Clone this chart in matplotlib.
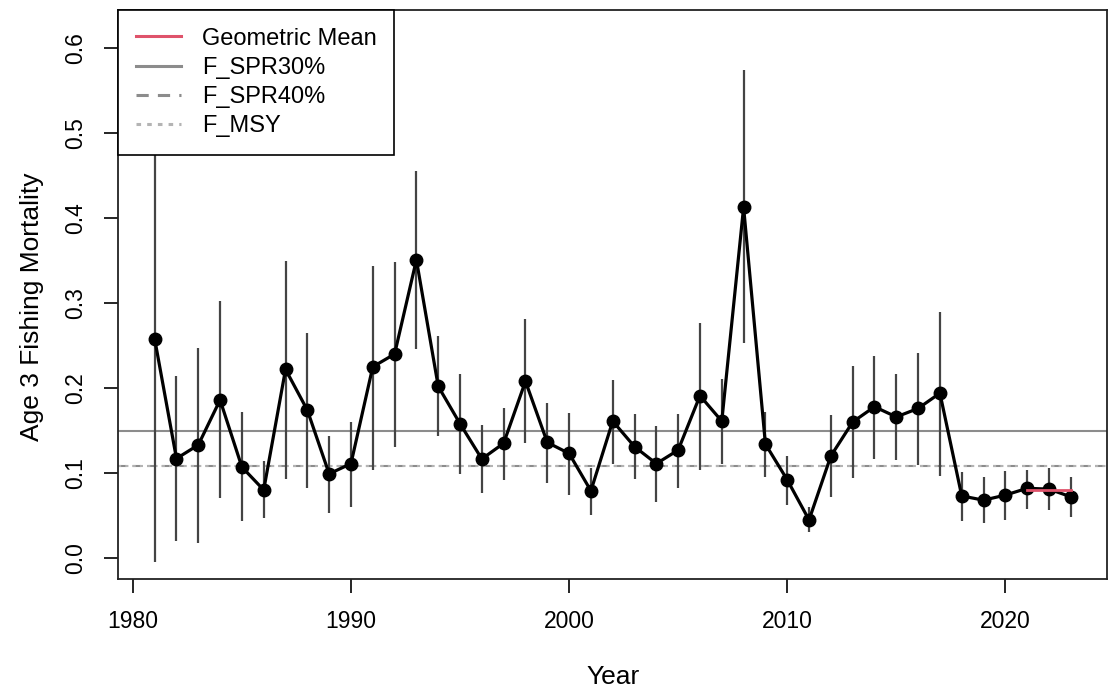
import matplotlib
matplotlib.use('Agg')
import matplotlib.pyplot as plt
import numpy as np

plt.rcParams['font.family'] = ['Liberation Sans', 'DejaVu Sans']

years = np.arange(1981, 2024)
f_age3 = [0.258, 0.117, 0.133, 0.186, 0.107, 0.080, 0.222, 0.174, 0.099, 0.111,
          0.225, 0.240, 0.351, 0.202, 0.158, 0.1165, 0.135, 0.208, 0.136, 0.123,
          0.079, 0.161, 0.131, 0.111, 0.127, 0.191, 0.161, 0.413, 0.134, 0.092,
          0.0447, 0.120, 0.160, 0.178, 0.166, 0.176, 0.194, 0.073, 0.068, 0.074,
          0.082, 0.081, 0.072]
upper = [0.620, 0.214, 0.247, 0.302, 0.172, 0.114, 0.350, 0.265, 0.1435, 0.160,
         0.344, 0.348, 0.456, 0.261, 0.216, 0.156, 0.176, 0.281, 0.182, 0.171,
         0.1055, 0.209, 0.169, 0.155, 0.170, 0.276, 0.211, 0.575, 0.172, 0.120,
         0.060, 0.168, 0.226, 0.238, 0.217, 0.2415, 0.290, 0.1015, 0.0957, 0.102,
         0.104, 0.106, 0.095]
lower = [-0.005, 0.020, 0.017, 0.070, 0.044, 0.047, 0.093, 0.082, 0.053, 0.060,
         0.104, 0.131, 0.246, 0.1435, 0.099, 0.077, 0.092, 0.135, 0.0886, 0.074,
         0.051, 0.111, 0.0925, 0.066, 0.082, 0.1035, 0.1106, 0.2525, 0.095, 0.062,
         0.030, 0.072, 0.094, 0.1165, 0.115, 0.109, 0.097, 0.044, 0.041, 0.0447,
         0.058, 0.056, 0.0486]

gm_years = [2021, 2023]
gm_value = 0.080
f_spr30 = 0.149
f_spr40 = 0.108
f_msy = 0.1085

fig = plt.figure(figsize=(11.08, 6.93), dpi=100)
ax = fig.add_axes([0.1065, 0.1645, 0.893, 0.821])

# reference lines
ax.axhline(f_spr30, color='#8c8c8c', lw=1.5, label='F_SPR30%', zorder=1)
ax.axhline(f_spr40, color='#8c8c8c', lw=1.5, ls=(0, (4, 3)), label='F_SPR40%', zorder=1)
ax.axhline(f_msy, color='#b4b4b4', lw=1.5, ls=(0, (1.5, 2)), label='F_MSY', zorder=1)

# confidence intervals
ax.vlines(years, lower, upper, color='#444444', lw=1.6, zorder=2)

ax.plot(years, f_age3, color='black', lw=2.3, marker='o', ms=9, zorder=3)

ax.plot(gm_years, [gm_value, gm_value], color='#DF536B', lw=2, zorder=4,
        label='Geometric Mean')

ax.set_xlim(1979.32, 2024.68)
ax.set_ylim(-0.0248, 0.645)
ax.set_xticks([1980, 1990, 2000, 2010, 2020])
ax.set_yticks(np.arange(0, 0.61, 0.1))
ax.set_yticklabels(['0.0', '0.1', '0.2', '0.3', '0.4', '0.5', '0.6'], rotation=90,
                   va='center')
ax.tick_params(labelsize=16.5, length=10, width=1.2, pad=12)
for s in ax.spines.values():
    s.set_linewidth(1.3)
    s.set_color('#222222')

ax.set_xlabel('Year', fontsize=19, labelpad=23)
ax.set_ylabel('Age 3 Fishing Mortality', fontsize=19)
ax.yaxis.set_label_coords(-0.075, 0.478)

h, l = ax.get_legend_handles_labels()
order = [3, 0, 1, 2]
leg = ax.legend([h[i] for i in order], [l[i] for i in order], loc='upper left',
                borderaxespad=0, fancybox=False, edgecolor='black', framealpha=1,
                fontsize=17, handlelength=1.9, handletextpad=0.9,
                labelspacing=0.3, borderpad=0.75)
leg.get_frame().set_linewidth(1.2)
for line in leg.get_lines():
    line.set_linewidth(2.2)
leg.set_zorder(10)

fig.savefig('out.png', dpi=100)
